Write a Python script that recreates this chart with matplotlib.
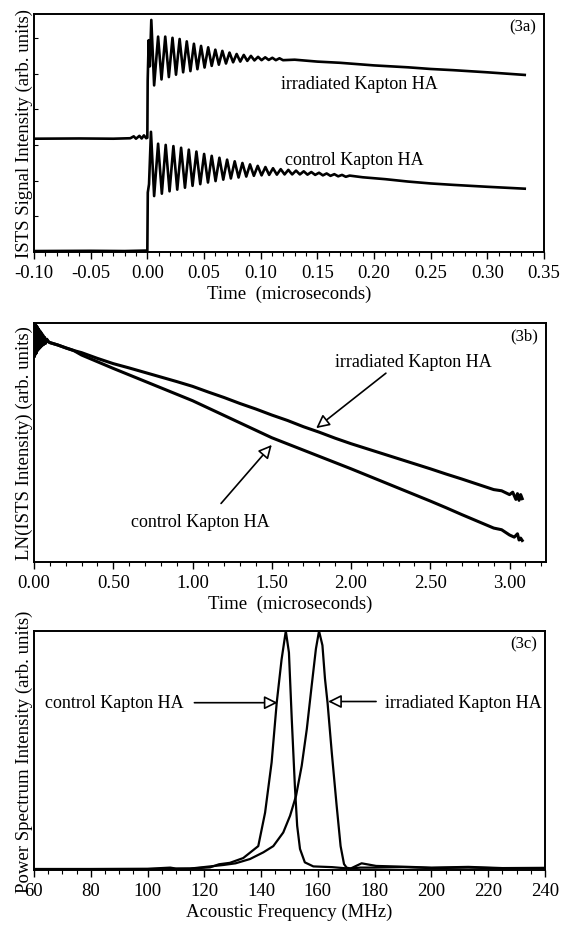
import matplotlib
matplotlib.use("Agg")
import matplotlib.pyplot as plt
from matplotlib.ticker import MultipleLocator, FormatStrFormatter

plt.rcParams["font.family"] = ["Liberation Serif", "DejaVu Serif"]
plt.rcParams["axes.unicode_minus"] = False

# ---------------- (3a) ISTS signal, normalised 0..1 ----------------
irr_a_t = [-0.100, -0.060, -0.030, -0.015, -0.012, -0.010, -0.007, -0.005, -0.003, -0.001, 0.0000,
           0.0003, 0.0012, 0.0022, 0.0035, 0.0060, 0.0095, 0.0125, 0.0158, 0.0190, 0.0222,
           0.0253, 0.0285, 0.0316, 0.0348, 0.0380, 0.0411, 0.0442, 0.0474, 0.0505, 0.0537,
           0.0568, 0.0600, 0.0631, 0.0662, 0.0694, 0.0725, 0.0757, 0.0788, 0.0820, 0.0851,
           0.0882, 0.0914, 0.0945, 0.0977, 0.1008, 0.1040, 0.1071, 0.1103, 0.1134, 0.1166,
           0.1197, 0.130, 0.150, 0.170, 0.200, 0.230, 0.250, 0.270, 0.300, 0.333]
irr_a_y = [0.476, 0.477, 0.476, 0.478, 0.486, 0.476, 0.488, 0.477, 0.490, 0.478, 0.480,
           0.720, 0.890, 0.780, 0.975, 0.700, 0.905, 0.725, 0.905, 0.735, 0.900,
           0.745, 0.895, 0.755, 0.885, 0.760, 0.875, 0.768, 0.866, 0.775, 0.860,
           0.782, 0.850, 0.787, 0.845, 0.792, 0.838, 0.797, 0.832, 0.800, 0.828,
           0.803, 0.824, 0.805, 0.820, 0.806, 0.818, 0.807, 0.816, 0.806, 0.814,
           0.806, 0.808, 0.800, 0.795, 0.784, 0.776, 0.769, 0.764, 0.755, 0.744]

ctl_a_t = [-0.100, -0.050, -0.020, -0.001, 0.0000, 0.0004, 0.0015, 0.0032,
           0.0060, 0.0095, 0.0128, 0.0162, 0.0196, 0.0230, 0.0264, 0.0298, 0.0332, 0.0366,
           0.0399, 0.0433, 0.0467, 0.0501, 0.0535, 0.0568, 0.0602, 0.0636, 0.0670, 0.0704,
           0.0737, 0.0771, 0.0805, 0.0839, 0.0873, 0.0906, 0.0940, 0.0974, 0.1008, 0.1042,
           0.1075, 0.1109, 0.1143, 0.1177, 0.1211, 0.1244, 0.1278, 0.1312, 0.1346, 0.1380,
           0.1413, 0.1447, 0.1481, 0.1515, 0.1549, 0.1582, 0.1616, 0.1650, 0.1684, 0.1718,
           0.1751, 0.1785, 0.190, 0.210, 0.230, 0.250, 0.270, 0.300, 0.333]
ctl_a_y = [0.004, 0.005, 0.004, 0.006, 0.004, 0.250, 0.285, 0.505,
           0.235, 0.455, 0.245, 0.450, 0.255, 0.445, 0.262, 0.438, 0.270, 0.430,
           0.278, 0.422, 0.285, 0.412, 0.292, 0.404, 0.298, 0.396, 0.304, 0.388,
           0.309, 0.381, 0.313, 0.374, 0.317, 0.368, 0.320, 0.362, 0.322, 0.357,
           0.324, 0.352, 0.325, 0.348, 0.326, 0.345, 0.326, 0.342, 0.326, 0.339,
           0.325, 0.336, 0.324, 0.333, 0.322, 0.330, 0.320, 0.327, 0.318, 0.324,
           0.316, 0.321, 0.314, 0.306, 0.296, 0.288, 0.282, 0.274, 0.266]

# ---------------- (3b) LN(ISTS intensity), normalised 0..1 ----------------
start_b_t = [0.000, 0.003, 0.006, 0.009, 0.012, 0.015, 0.018, 0.021, 0.024, 0.027,
             0.030, 0.034, 0.038, 0.042, 0.046, 0.050, 0.055, 0.060, 0.066, 0.072,
             0.080, 0.090, 0.100, 0.150, 0.200, 0.250]
start_b_y = [0.995, 0.860, 1.000, 0.870, 0.990, 0.875, 0.985, 0.885, 0.978, 0.890,
             0.972, 0.895, 0.965, 0.900, 0.958, 0.905, 0.950, 0.910, 0.940, 0.915,
             0.932, 0.922, 0.918, 0.908, 0.896, 0.885]

irr_b_t = [0.3, 0.4, 0.5, 0.6, 0.7, 0.8, 0.9, 1.0, 1.1, 1.2, 1.3, 1.4, 1.5, 1.6, 1.7,
           1.8, 1.9, 2.0, 2.1, 2.2, 2.3, 2.4, 2.5, 2.6, 2.7, 2.8, 2.9, 2.95, 3.0, 3.02,
           3.04, 3.05, 3.06, 3.07, 3.08]
irr_b_y = [0.876, 0.852, 0.830, 0.812, 0.793, 0.774, 0.755, 0.735, 0.711, 0.688, 0.663,
           0.640, 0.615, 0.592, 0.566, 0.543, 0.518, 0.495, 0.474, 0.453, 0.432, 0.411,
           0.390, 0.368, 0.347, 0.325, 0.303, 0.298, 0.282, 0.292, 0.262, 0.286, 0.258,
           0.282, 0.265]

ctl_b_t = [0.3, 0.4, 0.5, 0.6, 0.7, 0.8, 0.9, 1.0, 1.1, 1.2, 1.3, 1.4, 1.5, 1.6, 1.7,
           1.8, 1.9, 2.0, 2.1, 2.2, 2.3, 2.4, 2.5, 2.6, 2.7, 2.8, 2.9, 2.95, 3.0, 3.03,
           3.05, 3.06, 3.07, 3.08]
ctl_b_y = [0.866, 0.838, 0.810, 0.783, 0.756, 0.729, 0.702, 0.675, 0.644, 0.613, 0.582,
           0.551, 0.520, 0.494, 0.468, 0.442, 0.416, 0.390, 0.363, 0.336, 0.309, 0.282,
           0.255, 0.227, 0.198, 0.170, 0.142, 0.135, 0.113, 0.104, 0.118, 0.092, 0.100,
           0.090]

# ---------------- (3c) power spectrum, normalised 0..1 ----------------
ctl_c_f = [60, 80, 100, 108, 110, 115, 122, 125.2, 129, 133.7, 139.0, 141.4, 143.7, 145.5,
           147.2, 148.7, 149.8, 150.8, 151.9, 152.7, 153.7, 155.4, 158.4, 165, 170.9,
           175, 180, 190, 200, 213, 225, 240]
ctl_c_y = [0.004, 0.004, 0.005, 0.010, 0.006, 0.006, 0.011, 0.024, 0.030, 0.050, 0.100,
           0.240, 0.450, 0.700, 0.880, 1.000, 0.910, 0.630, 0.350, 0.185, 0.088, 0.032,
           0.015, 0.012, 0.006, 0.010, 0.010, 0.012, 0.008, 0.010, 0.007, 0.008]

irr_c_f = [60, 80, 100, 110, 115, 126.7, 131, 136.1, 140.8, 144.3, 147.8, 150.2, 152.3,
           154.3, 156.1, 157.8, 159.3, 160.4, 161.6, 162.5, 163.4, 164.9, 166.6, 168.0,
           169.2, 170.1, 171.5, 175.4, 180.5, 189.6, 200, 213, 225, 240]
irr_c_y = [0.004, 0.004, 0.004, 0.005, 0.006, 0.021, 0.028, 0.046, 0.074, 0.100, 0.157,
           0.227, 0.310, 0.436, 0.590, 0.770, 0.925, 1.000, 0.940, 0.800, 0.700, 0.490,
           0.270, 0.100, 0.025, 0.010, 0.006, 0.028, 0.017, 0.014, 0.010, 0.013, 0.008,
           0.009]

W, H = 570, 929
fig = plt.figure(figsize=(W / 100, H / 100), dpi=100)
left = 34 / W
ax_a = fig.add_axes([left, 1 - 253 / H, 510 / W, 238 / H])
ax_b = fig.add_axes([left, 1 - 563 / H, 512 / W, 239 / H])
ax_c = fig.add_axes([left, 1 - 871 / H, 511 / W, 239 / H])

FS = 13.5
TXT = 13
YL = 13.5
lw = 1.9


def style(ax):
    for s in ax.spines.values():
        s.set_linewidth(1.4)
    ax.tick_params(axis="x", which="major", direction="out", length=5, width=1.0,
                   labelsize=FS, pad=4)
    ax.tick_params(axis="x", which="minor", direction="out", length=3, width=0.8)
    ax.tick_params(axis="y", which="both", direction="in", length=3, width=0.8,
                   labelleft=False)


# panel a
ax_a.plot(irr_a_t, irr_a_y, color="black", lw=lw)
ax_a.plot(ctl_a_t, ctl_a_y, color="black", lw=lw)
ax_a.set_xlim(-0.10, 0.35)
ax_a.set_ylim(0, 1)
ax_a.xaxis.set_major_locator(MultipleLocator(0.05))
ax_a.xaxis.set_minor_locator(MultipleLocator(0.01))
ax_a.xaxis.set_major_formatter(FormatStrFormatter("%.2f"))
ax_a.set_yticks([0.15, 0.30, 0.45, 0.60, 0.75, 0.90])
style(ax_a)
ax_a.set_xlabel("Time  (microseconds)", fontsize=FS, labelpad=2)
ax_a.set_ylabel("ISTS Signal Intensity (arb. units)", fontsize=YL, labelpad=1)
ax_a.text(0.118, 0.706, "irradiated Kapton HA", fontsize=TXT, va="center", ha="left")
ax_a.text(0.1215, 0.39, "control Kapton HA", fontsize=TXT, va="center", ha="left")
ax_a.text(0.985, 0.95, "(3a)", transform=ax_a.transAxes, fontsize=12,
          ha="right", va="center")

# panel b
ax_b.plot(start_b_t + irr_b_t, start_b_y + irr_b_y, color="black", lw=2.2)
ax_b.plot(start_b_t + ctl_b_t, start_b_y + ctl_b_y, color="black", lw=2.2)
ax_b.set_xlim(0, 3.23)
ax_b.set_ylim(0, 1)
ax_b.xaxis.set_major_locator(MultipleLocator(0.5))
ax_b.xaxis.set_minor_locator(MultipleLocator(0.1))
ax_b.xaxis.set_major_formatter(FormatStrFormatter("%.2f"))
ax_b.set_yticks([])
style(ax_b)
ax_b.set_xlabel("Time  (microseconds)", fontsize=FS, labelpad=2)
ax_b.set_ylabel("LN(ISTS Intensity) (arb. units)", fontsize=YL, labelpad=1)
arrow = dict(arrowstyle="-|>", fc="white", ec="black", lw=1.2, mutation_scale=20,
             shrinkA=0, shrinkB=0)
ax_b.annotate("", xy=(1.78, 0.56), xytext=(2.22, 0.79), arrowprops=arrow)
ax_b.text(1.90, 0.84, "irradiated Kapton HA", fontsize=TXT, va="center", ha="left")
ax_b.annotate("", xy=(1.50, 0.49), xytext=(1.18, 0.245), arrowprops=arrow)
ax_b.text(0.61, 0.17, "control Kapton HA", fontsize=TXT, va="center", ha="left")
ax_b.text(0.985, 0.95, "(3b)", transform=ax_b.transAxes, fontsize=12,
          ha="right", va="center")

# panel c
ax_c.plot(ctl_c_f, ctl_c_y, color="black", lw=1.6)
ax_c.plot(irr_c_f, irr_c_y, color="black", lw=1.6)
ax_c.set_xlim(60, 240)
ax_c.set_ylim(0, 1)
ax_c.xaxis.set_major_locator(MultipleLocator(20))
ax_c.xaxis.set_minor_locator(MultipleLocator(5))
ax_c.set_yticks([])
style(ax_c)
ax_c.set_xlabel("Acoustic Frequency (MHz)", fontsize=FS, labelpad=2)
ax_c.set_ylabel("Power Spectrum Intensity (arb. units)", fontsize=YL, labelpad=1)
ax_c.annotate("", xy=(145.8, 0.70), xytext=(116.5, 0.70), arrowprops=arrow)
ax_c.text(64.0, 0.70, "control Kapton HA", fontsize=TXT, va="center", ha="left")
ax_c.annotate("", xy=(163.6, 0.705), xytext=(180.5, 0.705), arrowprops=arrow)
ax_c.text(183.5, 0.70, "irradiated Kapton HA", fontsize=TXT, va="center", ha="left")
ax_c.text(0.985, 0.95, "(3c)", transform=ax_c.transAxes, fontsize=12,
          ha="right", va="center")

fig.savefig("out.png", dpi=100)
